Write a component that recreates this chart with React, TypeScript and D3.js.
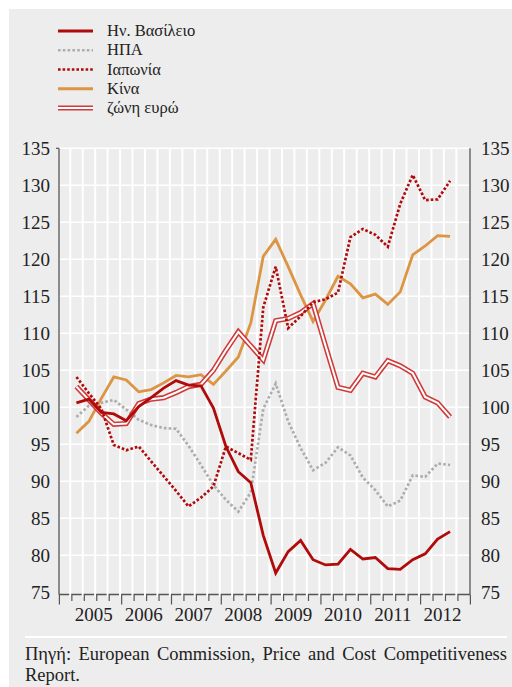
import { useEffect, useRef } from 'react';
import * as d3 from 'd3';

// quarterly observations, 2005 Q1 .. 2012 Q3
const YEARS = ['2005', '2006', '2007', '2008', '2009', '2010', '2011', '2012'];
const QUARTERS = YEARS.flatMap(y => ['Q1', 'Q2', 'Q3', 'Q4'].map(q => `${y} ${q}`)).slice(0, 31);

const ukValues = [100.6, 101.1, 99.3, 99.1, 98.2, 100.1, 101.3, 102.6, 103.6, 103.0, 102.9, 99.9, 94.7, 91.3, 89.8, 82.7, 77.6, 80.5, 82.0, 79.4, 78.7, 78.8, 80.8, 79.5, 79.7, 78.2, 78.1, 79.4, 80.2, 82.2, 83.2];
const usaValues = [98.7, 100.2, 100.6, 101.0, 99.7, 98.3, 97.6, 97.2, 97.1, 94.8, 92.2, 89.5, 87.5, 85.9, 88.5, 99.8, 103.2, 98.1, 94.5, 91.5, 92.5, 94.6, 93.5, 90.5, 88.8, 86.6, 87.4, 90.8, 90.6, 92.4, 92.2];
const japanValues = [104.1, 101.9, 99.8, 94.9, 94.2, 94.7, 92.7, 90.7, 88.7, 86.6, 87.8, 89.3, 94.7, 93.8, 92.9, 113.5, 119.0, 110.7, 112.3, 114.2, 114.6, 115.5, 123.0, 124.1, 123.3, 121.7, 127.5, 131.4, 128.0, 128.1, 130.6];
const chinaValues = [96.5, 98.1, 101.2, 104.1, 103.7, 102.1, 102.4, 103.3, 104.3, 104.1, 104.4, 103.1, 104.9, 106.8, 111.4, 120.4, 122.7, 119.0, 115.2, 111.6, 114.5, 117.7, 116.7, 114.8, 115.3, 113.9, 115.6, 120.6, 121.8, 123.2, 123.1];
const euroValues = [102.8, 101.0, 99.2, 97.7, 97.8, 100.5, 101.1, 101.3, 102.0, 102.8, 103.1, 105.0, 107.7, 110.2, 108.3, 106.4, 111.7, 112.0, 112.8, 114.0, 108.3, 102.7, 102.3, 104.6, 104.1, 106.3, 105.6, 104.6, 101.4, 100.6, 98.7];

const Y_TICKS = [75, 80, 85, 90, 95, 100, 105, 110, 115, 120, 125, 130, 135];
const LEGEND_LABELS = ['Ην. Βασίλειο', 'ΗΠΑ', 'Ιαπωνία', 'Κίνα', 'ζώνη ευρώ'];
const SOURCE_LINES = ['Πηγή: European Commission, Price and Cost Competitiveness', 'Report.'];

const DARK_RED = '#b00a0a';
const FONT = 'Liberation Serif, Times New Roman, serif';

export default function App() {
  const svgRef = useRef<SVGSVGElement>(null);

  useEffect(() => {
    document.body.style.margin = '0';
    const svg = d3.select(svgRef.current);
    svg.selectAll('*').remove();

    // category slots: one empty slot before 2005 Q1 and one after 2012 Q3
    const x = d3.scaleLinear().domain([-1.4, 31.6]).range([59, 470]);
    const y = d3.scaleLinear().domain([75, 135]).range([592.3, 148.3]);
    const axisY = 594.5;

    svg.append('rect').attr('x', 9).attr('y', 9).attr('width', 503).attr('height', 678).attr('fill', '#ededed');

    const series = [
      { name: LEGEND_LABELS[0], values: ukValues, kind: 'uk' },
      { name: LEGEND_LABELS[1], values: usaValues, kind: 'usa' },
      { name: LEGEND_LABELS[2], values: japanValues, kind: 'japan' },
      { name: LEGEND_LABELS[3], values: chinaValues, kind: 'china' },
      { name: LEGEND_LABELS[4], values: euroValues, kind: 'euro' },
    ];

    const styleLine = (sel: any, kind: string) => {
      if (kind === 'uk') sel.attr('stroke', DARK_RED).attr('stroke-width', 2.8);
      if (kind === 'china') sel.attr('stroke', '#dc9543').attr('stroke-width', 2.8);
      if (kind === 'usa') sel.attr('stroke', '#adadad').attr('stroke-width', 2.7).attr('stroke-dasharray', '2.6 2.2');
      if (kind === 'japan') sel.attr('stroke', DARK_RED).attr('stroke-width', 2.7).attr('stroke-dasharray', '2.6 2');
      sel.attr('fill', 'none');
    };

    // legend
    const leg = svg.append('g');
    series.forEach((s, i) => {
      const ly = 31 + i * 19.25;
      if (s.kind === 'euro') {
        leg.append('line').attr('x1', 58).attr('x2', 93).attr('y1', ly).attr('y2', ly)
          .attr('stroke', '#cf3a3a').attr('stroke-width', 5);
        leg.append('line').attr('x1', 58).attr('x2', 93).attr('y1', ly).attr('y2', ly)
          .attr('stroke', '#ffffff').attr('stroke-width', 2);
      } else {
        leg.append('line').attr('x1', 58).attr('x2', 93).attr('y1', ly).attr('y2', ly).call(styleLine, s.kind);
      }
      leg.append('text').attr('x', 107).attr('y', ly + 5)
        .attr('font-family', FONT).attr('font-size', 16.5).attr('fill', '#222')
        .text(s.name);
    });

    // axis line at the bottom (drawn under the white gridlines so it looks broken)
    svg.append('line').attr('x1', 59).attr('x2', 470).attr('y1', axisY).attr('y2', axisY)
      .attr('stroke', '#555').attr('stroke-width', 1.3);

    // horizontal gridlines
    svg.append('g').selectAll('line')
      .data(Y_TICKS.filter(t => t > 75))
      .join('line')
      .attr('x1', 59).attr('x2', 470)
      .attr('y1', d => y(d)).attr('y2', d => y(d))
      .attr('stroke', '#fff').attr('stroke-width', 1.6);

    // vertical gridlines at category boundaries
    const bounds = d3.range(0, 34).map(k => k - 1.4);
    svg.append('g').selectAll('line')
      .data(bounds.slice(1, -1))
      .join('line')
      .attr('x1', d => x(d) - 1.2).attr('x2', d => x(d) - 1.2)
      .attr('y1', y(135)).attr('y2', axisY + 2)
      .attr('stroke', '#fff').attr('stroke-width', 2);

    // x ticks, longer at year boundaries
    const longTicks = new Set([0, 5, 9, 13, 17, 21, 25, 29, 33]);
    svg.append('g').selectAll('line')
      .data(bounds.map((b, k) => ({ b, k })))
      .join('line')
      .attr('x1', d => x(d.b) + 0.4).attr('x2', d => x(d.b) + 0.4)
      .attr('y1', axisY).attr('y2', d => (longTicks.has(d.k) ? axisY + 10 : axisY + 6.5))
      .attr('stroke', '#555').attr('stroke-width', 1.2);

    // vertical axes
    [59, 470].forEach(ax => {
      svg.append('line').attr('x1', ax).attr('x2', ax).attr('y1', y(135)).attr('y2', axisY)
        .attr('stroke', '#555').attr('stroke-width', 1.3);
    });
    svg.append('line').attr('x1', 56).attr('x2', 59).attr('y1', y(135)).attr('y2', y(135))
      .attr('stroke', '#555').attr('stroke-width', 1.2);

    // y labels on both sides
    const yl = svg.append('g').attr('font-family', FONT).attr('font-size', 19).attr('fill', '#222');
    yl.selectAll('text.l').data(Y_TICKS).join('text').attr('class', 'l')
      .attr('x', 50).attr('y', d => y(d)).attr('dy', '0.34em').attr('text-anchor', 'end')
      .text(d => d);
    yl.selectAll('text.r').data(Y_TICKS).join('text').attr('class', 'r')
      .attr('x', 481).attr('y', d => y(d)).attr('dy', '0.34em').attr('text-anchor', 'start')
      .text(d => d);

    // year labels
    svg.append('g').selectAll('text').data(YEARS).join('text')
      .attr('x', (d, i) => x(1.4 + i * 4)).attr('y', 620.5)
      .attr('text-anchor', 'middle').attr('font-family', FONT).attr('font-size', 19).attr('fill', '#222')
      .text(d => d);

    // series
    const line = d3.line<number>().x((d, i) => x(i)).y(d => y(d));
    const plot = svg.append('g');
    const drawOrder = ['usa', 'china', 'euro', 'uk', 'japan'];
    drawOrder.forEach(kind => {
      const s = series.find(v => v.kind === kind)!;
      if (kind === 'euro') {
        plot.append('path').attr('d', line(s.values)).attr('fill', 'none')
          .attr('stroke', '#cf3a3a').attr('stroke-width', 5.2);
        plot.append('path').attr('d', line(s.values)).attr('fill', 'none')
          .attr('stroke', '#ffffff').attr('stroke-width', 2);
      } else {
        plot.append('path').attr('d', line(s.values)).attr('data-q', QUARTERS.length).call(styleLine, kind);
      }
    });

    // separator + justified source note
    svg.append('line').attr('x1', 25).attr('x2', 507).attr('y1', 637).attr('y2', 637)
      .attr('stroke', '#fff').attr('stroke-width', 2);

    const src = svg.append('g').attr('font-family', FONT).attr('font-size', 18.5).attr('fill', '#222');
    const words = SOURCE_LINES[0].split(' ');
    const nodes = words.map(w => src.append('text').attr('y', 660).text(w));
    const widths = nodes.map(n => (n.node() as SVGTextElement).getComputedTextLength());
    const gap = (482 - d3.sum(widths)) / (words.length - 1);
    let cx = 25;
    nodes.forEach((n, i) => { n.attr('x', cx); cx += widths[i] + gap; });
    src.append('text').attr('x', 25).attr('y', 681).text(SOURCE_LINES[1]);
  }, []);

  return <svg ref={svgRef} width={512} height={687} style={{ display: 'block' }} />;
}
